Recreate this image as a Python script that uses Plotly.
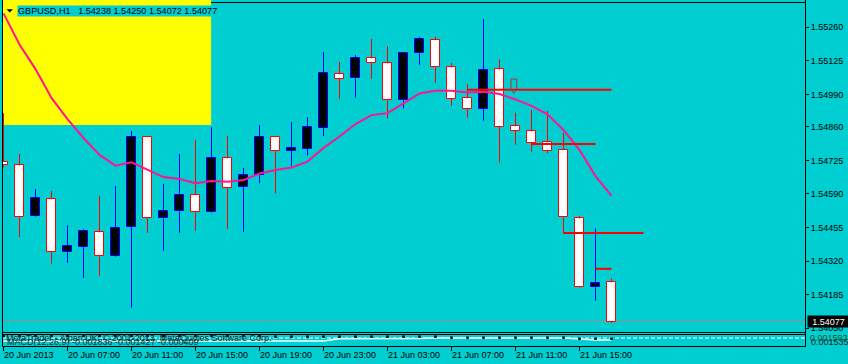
import plotly.graph_objects as go

W, H = 848, 364
BG = "#00CED1"
FONT = "Liberation Sans, Arial, sans-serif"

# ---------------- data ----------------
symbol_title = "GBPUSD,H1\u00a0\u00a0 1.54238 1.54250 1.54072 1.54077"

opens = [1.54720, 1.54705, 1.54500, 1.54569, 1.54356, 1.54376, 1.54436, 1.54339, 1.54456, 1.54818,
         1.54492, 1.54520, 1.54585, 1.54516, 1.54733, 1.54617, 1.54665, 1.54818, 1.54762, 1.54772,
         1.54856, 1.55071, 1.55055, 1.55135, 1.55115, 1.54967, 1.55156, 1.55208, 1.55099, 1.54975,
         1.54933, 1.55091, 1.54862, 1.54842, 1.54798, 1.54767, 1.54492, 1.54215, 1.54238]
closes = [1.54705, 1.54496, 1.54573, 1.54356, 1.54380, 1.54440, 1.54339, 1.54452, 1.54818, 1.54492,
          1.54520, 1.54585, 1.54516, 1.54733, 1.54613, 1.54665, 1.54818, 1.54762, 1.54774, 1.54858,
          1.55075, 1.55053, 1.55135, 1.55115, 1.54967, 1.55156, 1.55212, 1.55099, 1.54973, 1.54933,
          1.55087, 1.54860, 1.54844, 1.54796, 1.54764, 1.54496, 1.54215, 1.54231, 1.54077]
highs = [1.54915, 1.54751, 1.54610, 1.54602, 1.54464, 1.54448, 1.54582, 1.54622, 1.54843, 1.54823,
         1.54630, 1.54751, 1.54807, 1.54859, 1.54823, 1.54694, 1.54867, 1.54820, 1.54879, 1.54899,
         1.55161, 1.55121, 1.55149, 1.55213, 1.55185, 1.55158, 1.55221, 1.55221, 1.55117, 1.55032,
         1.55293, 1.55131, 1.54917, 1.54928, 1.54924, 1.54836, 1.54501, 1.54452, 1.54250]
lows = [1.54698, 1.54416, 1.54498, 1.54310, 1.54314, 1.54253, 1.54261, 1.54337, 1.54133, 1.54434,
        1.54362, 1.54434, 1.54442, 1.54514, 1.54450, 1.54438, 1.54633, 1.54593, 1.54702, 1.54744,
        1.54823, 1.54973, 1.54977, 1.55053, 1.54893, 1.54933, 1.55110, 1.55037, 1.54945, 1.54897,
        1.54885, 1.54716, 1.54788, 1.54760, 1.54754, 1.54432, 1.54213, 1.54161, 1.54072]
ma_values = [1.55316, 1.55191, 1.55092, 1.54976, 1.54891, 1.54815, 1.54747, 1.54704, 1.54717, 1.54686,
             1.54658, 1.54650, 1.54633, 1.54642, 1.54639, 1.54646, 1.54672, 1.54686, 1.54696, 1.54720,
             1.54775, 1.54821, 1.54871, 1.54907, 1.54915, 1.54954, 1.54994, 1.55005, 1.55005, 1.54998,
             1.55001, 1.54992, 1.54970, 1.54944, 1.54910, 1.54847, 1.54767, 1.54662, 1.54582]
macd_main = [-0.0003] * 21 + [-0.00008] * 3 + [-0.00005] * 3 + [0.0] * 3 + [0.00003] * 3 + [0.0] * 3 + [-0.0001, -0.0002, -0.0002]
macd_signal = [0.0002] * 17 + [0.00013] * 11 + [0.00003] * 8 + [-0.00007, -0.00007, -0.00007]

tick_idx = [0, 4, 8, 12, 16, 20, 24, 28, 32, 36]
tick_text = ["20 Jun 2013", "20 Jun 07:00", "20 Jun 11:00", "20 Jun 15:00", "20 Jun 19:00",
             "20 Jun 23:00", "21 Jun 03:00", "21 Jun 07:00", "21 Jun 11:00", "21 Jun 15:00"]
price_ticks = [1.55260, 1.55125, 1.54990, 1.54860, 1.54725, 1.54590, 1.54455, 1.54320, 1.54185, 1.54050]

level_start = [29, 33, 35, 37]
level_end = [38, 37, 40, 38]
level_price = [1.55009, 1.54791, 1.54433, 1.54289]

zone_start, zone_end = -2, 12.98
zone_low, zone_high = 1.54867, 1.5545

arrow_left, arrow_right, arrow_mid = 31.72, 32.08, 31.9
arrow_top, arrow_neck, arrow_tip = 1.55052, 1.55011, 1.54995

last_price = 1.54077
sub_title = "MetaTrader - Alpari UK, \u00a9 2001-2013, MetaQuotes Software Corp."
macd_label = "MACD(12,26,9) -0.001836 -0.001427 -0.000409"
sub_scale = ["0.001593", "0.001535"]

# ---------------- helpers ----------------
def px(x):
    return x / W


def py(y):
    return 1 - y / H


n = len(opens)
idx = list(range(n))
bull = [closes[i] >= opens[i] for i in idx]

fig = go.Figure()


def wicks(sel):
    xs, ys = [], []
    for i in sel:
        top = max(opens[i], closes[i])
        bot = min(opens[i], closes[i])
        if highs[i] > top:
            xs += [i, i, None]
            ys += [top, highs[i], None]
        if lows[i] < bot:
            xs += [i, i, None]
            ys += [bot, lows[i], None]
    return xs, ys


bx, by = wicks([i for i in idx if bull[i]])
rx, ry = wicks([i for i in idx if not bull[i]])
fig.add_trace(go.Scatter(x=bx, y=by, mode="lines", line=dict(color="#0000FF", width=1),
                         hoverinfo="skip", showlegend=False, xaxis="x", yaxis="y"))
fig.add_trace(go.Scatter(x=rx, y=ry, mode="lines", line=dict(color="#FF0000", width=1),
                         hoverinfo="skip", showlegend=False, xaxis="x", yaxis="y"))

fig.add_trace(go.Bar(
    x=idx,
    base=[min(opens[i], closes[i]) for i in idx],
    y=[abs(closes[i] - opens[i]) for i in idx],
    width=0.62,
    marker=dict(color=["#000000" if b else "#FFFFFF" for b in bull],
                line=dict(color=["#0000FF" if b else "#FF0000" for b in bull], width=1)),
    hoverinfo="skip", showlegend=False, xaxis="x", yaxis="y"))

fig.add_trace(go.Scatter(x=idx, y=ma_values, mode="lines",
                         line=dict(color="#FF1493", width=2),
                         hoverinfo="skip", showlegend=False, xaxis="x", yaxis="y"))

# MACD sub window
fig.add_trace(go.Scatter(x=idx, y=macd_main, mode="lines", line=dict(color="#FFFFFF", width=1.5),
                         hoverinfo="skip", showlegend=False, xaxis="x2", yaxis="y2"))
fig.add_trace(go.Scatter(x=idx, y=macd_signal, mode="markers",
                         marker=dict(color="#000000", size=2.5, symbol="square"),
                         hoverinfo="skip", showlegend=False, xaxis="x2", yaxis="y2"))

shapes = []
# yellow zone
shapes.append(dict(type="rect", xref="x", yref="y", x0=zone_start, x1=zone_end,
                   y0=zone_low, y1=zone_high, fillcolor="#FFFF00", line=dict(width=0), layer="below"))
# last price line
shapes.append(dict(type="line", xref="paper", yref="y", x0=px(3), x1=px(805),
                   y0=last_price, y1=last_price, line=dict(color="#A09090", width=1), layer="below"))
# red level lines
for s, e, p in zip(level_start, level_end, level_price):
    shapes.append(dict(type="line", xref="x", yref="y", x0=s, x1=e, y0=p, y1=p,
                       line=dict(color="#FF0000", width=2), layer="above"))
# arrow object
shapes.append(dict(type="path", xref="x", yref="y",
                   path=f"M {arrow_left},{arrow_top} L {arrow_right},{arrow_top} L {arrow_right},{arrow_neck} "
                        f"L {arrow_mid},{arrow_tip} L {arrow_left},{arrow_neck} Z",
                   line=dict(color="#B03030", width=1), layer="above"))
# MACD zero level (dashed)
shapes.append(dict(type="line", xref="paper", yref="y2", x0=px(3), x1=px(805), y0=0, y1=0,
                   line=dict(color="#FFFFFF", width=1, dash="4px,2px"), layer="below"))
# frame lines
black = dict(color="#000000", width=1)
shapes += [
    dict(type="line", xref="paper", yref="paper", x0=px(211), x1=px(805.5), y0=py(2.5), y1=py(2.5), line=black),
    dict(type="line", xref="paper", yref="paper", x0=px(805.5), x1=px(805.5), y0=py(0), y1=py(346.5), line=black),
    dict(type="line", xref="paper", yref="paper", x0=px(2.5), x1=px(2.5), y0=py(0), y1=py(346.5), line=black),
    dict(type="line", xref="paper", yref="paper", x0=px(2.5), x1=px(805.5), y0=py(332.5), y1=py(332.5), line=black),
    dict(type="line", xref="paper", yref="paper", x0=px(2.5), x1=px(805.5), y0=py(334.5), y1=py(334.5), line=black),
    dict(type="line", xref="paper", yref="paper", x0=px(2.5), x1=px(805.5), y0=py(346.5), y1=py(346.5), line=black),
]
# title triangle
shapes.append(dict(type="path", xref="paper", yref="paper",
                   path=f"M {px(6.5)},{py(9.3)} L {px(13)},{py(9.3)} L {px(9.75)},{py(12.5)} Z",
                   fillcolor="#000000", line=dict(width=0)))

annotations = [
    dict(text=symbol_title, xref="paper", yref="paper", x=px(17), y=py(10.7), xanchor="left",
         yanchor="middle", showarrow=False, bgcolor=BG, borderpad=0,
         font=dict(family=FONT, size=9.1, color="#000000")),
    dict(text=f"{last_price:.5f}", xref="paper", yref="y", x=px(807), y=last_price, xanchor="left",
         yanchor="middle", showarrow=False, bgcolor="#000000", borderpad=0, width=41, height=11,
         align="center", font=dict(family=FONT, size=9, color="#FFFFFF")),
    dict(text=sub_title, xref="paper", yref="paper", x=px(4), y=py(337.8), xanchor="left",
         yanchor="middle", showarrow=False, font=dict(family=FONT, size=9, color="#0B2B2B")),
    dict(text=macd_label, xref="paper", yref="paper", x=px(5), y=py(341.5), xanchor="left",
         yanchor="middle", showarrow=False, font=dict(family=FONT, size=9, color="#0B2B2B")),
    dict(text=sub_scale[0], xref="paper", yref="paper", x=px(808), y=py(337.5), xanchor="left",
         yanchor="middle", showarrow=False, font=dict(family=FONT, size=9, color="#1D5C1D")),
    dict(text=sub_scale[1], xref="paper", yref="paper", x=px(809), y=py(341.5), xanchor="left",
         yanchor="middle", showarrow=False, font=dict(family=FONT, size=9, color="#0B2B2B")),
]

xr = [(3 - 3.5) / 16, (805 - 3.5) / 16]
ppu = 24876.0
y_top = 1.55260 + 27.3 / ppu
y_bot = 1.55260 - (332 - 27.3) / ppu

fig.update_layout(
    width=W, height=H, autosize=False,
    margin=dict(l=0, r=0, t=0, b=0, pad=0),
    paper_bgcolor=BG, plot_bgcolor=BG,
    barmode="overlay", bargap=0,
    showlegend=False,
    shapes=shapes, annotations=annotations,
    font=dict(family=FONT, size=9, color="#000000"),
    xaxis=dict(domain=[px(3), px(805)], range=xr, anchor="y", showticklabels=False, ticks="",
               showgrid=False, zeroline=False, showline=False, fixedrange=True),
    yaxis=dict(domain=[py(332), 1], range=[y_bot, y_top], anchor="x", side="right",
               tickvals=price_ticks, ticktext=[f"{v:.5f}" for v in price_ticks],
               ticks="outside", ticklen=3, tickwidth=1, tickcolor="#000000",
               tickfont=dict(family=FONT, size=9, color="#000000"),
               showgrid=False, zeroline=False, showline=False, fixedrange=True),
    xaxis2=dict(domain=[px(3), px(805)], range=xr, anchor="y2",
                tickvals=tick_idx, ticktext=tick_text, ticks="outside", ticklen=4, tickwidth=1,
                tickcolor="#000000", ticklabelposition="outside right",
                tickfont=dict(family=FONT, size=9, color="#000000"),
                showgrid=False, zeroline=False, showline=False, fixedrange=True),
    yaxis2=dict(domain=[py(346), py(334)], range=[-0.0008, 0.0004], anchor="x2",
                showticklabels=False, ticks="", showgrid=False, zeroline=False,
                showline=False, fixedrange=True),
)

fig.write_html("out.html", config={"displayModeBar": False})
